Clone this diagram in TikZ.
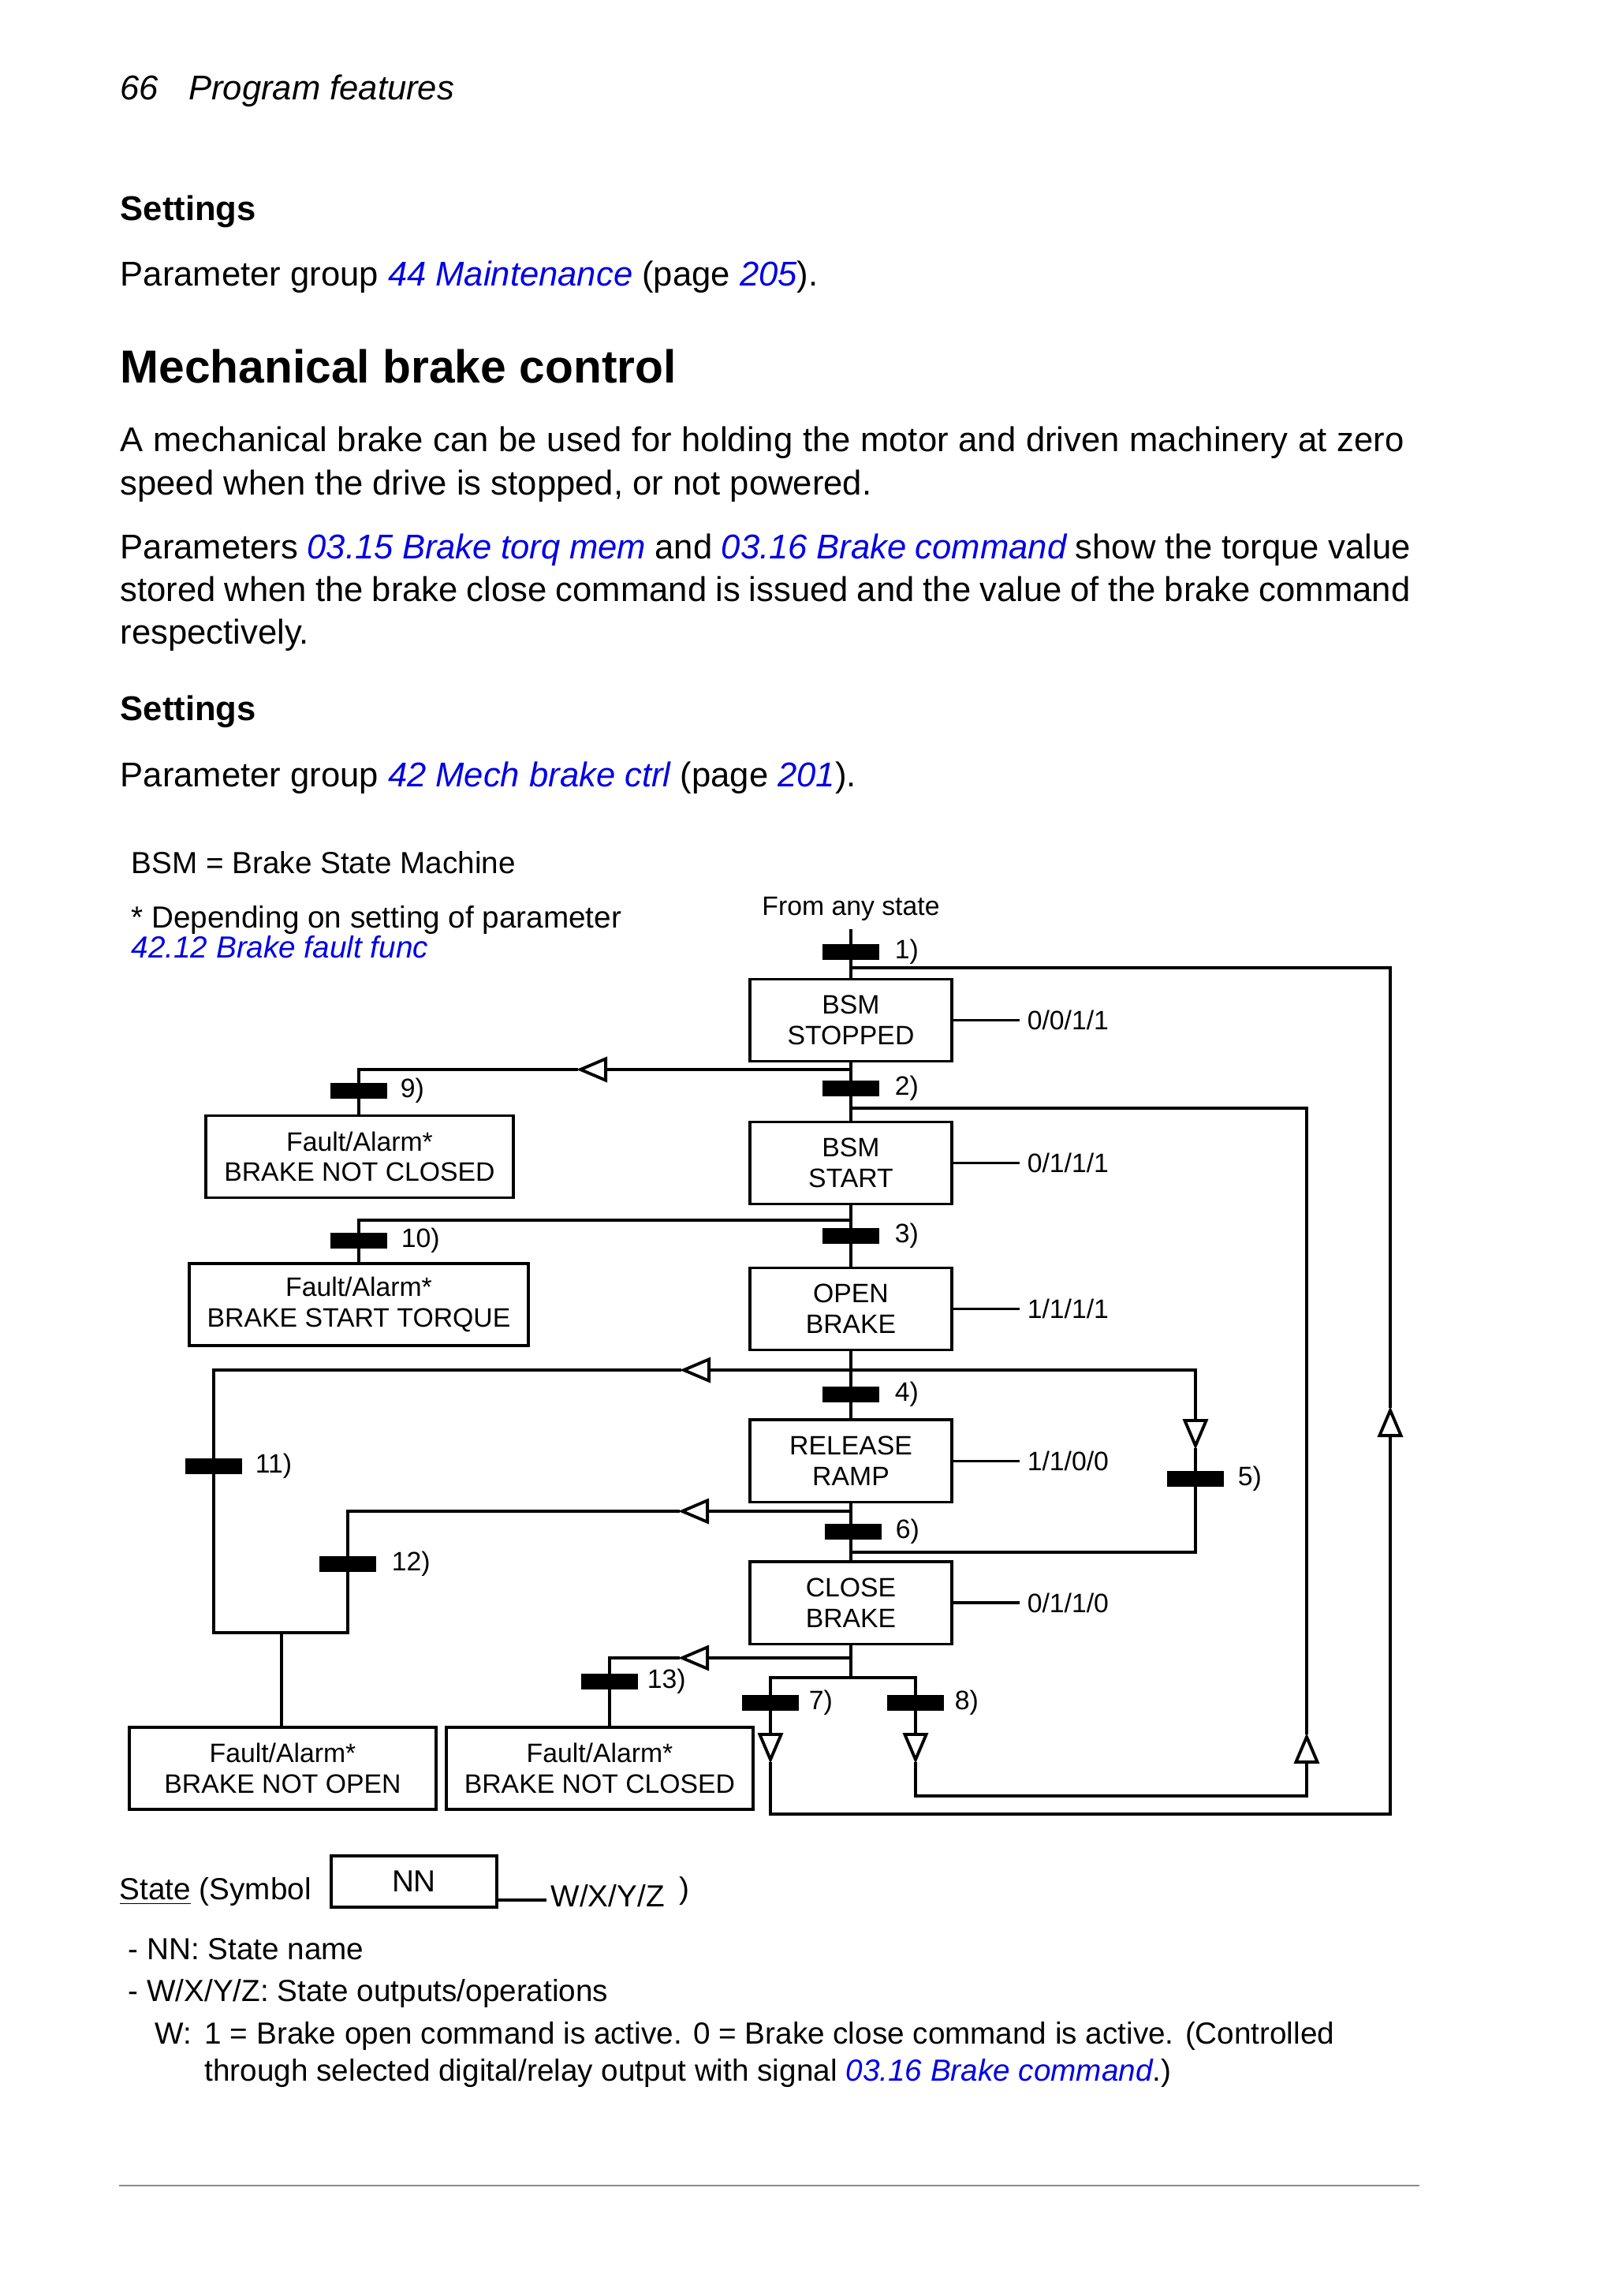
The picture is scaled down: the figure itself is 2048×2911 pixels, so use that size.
\documentclass[tikz,border=0pt]{standalone}
\usepackage{fontspec}
\setmainfont{Liberation Sans}
\usepackage{xcolor}
\definecolor{linkblue}{HTML}{0000E6}
\usepackage{tikz}
\usetikzlibrary{arrows.meta, positioning}
\newcommand{\lnk}[1]{\textcolor{linkblue}{\itshape #1}}
\newcommand{\bodyfont}{\fontsize{12.4}{15.5}\selectfont}
\newcommand{\notefont}{\fontsize{11}{13.5}\selectfont}
\newcommand{\smfont}{\fontsize{9.6}{11}\selectfont}

\begin{document}
\begin{tikzpicture}[x=0.01cm, y=-0.01cm,
  state/.style={draw, line width=1.1pt, minimum width=2.56cm, minimum height=1.04cm,
                inner sep=0pt, align=center, font=\smfont},
  fault/.style={state, minimum width=3.89cm},
  bar/.style={fill=black, minimum width=0.71cm, minimum height=0.2cm, inner sep=0pt},
  cond/.style={font=\smfont, inner sep=0pt},
  outp/.style={font=\smfont, inner sep=0.11cm},
  txt/.style={anchor=base west, inner sep=0pt, font=\bodyfont},
  note/.style={anchor=base west, inner sep=0pt, font=\notefont},
  wire/.style={line width=1.1pt, line cap=rect},
  tri/.style={-{Triangle[open, length=0.39cm, width=0.32cm]}}]

  \fill[white] (0,0) rectangle (2048,2911);
  \useasboundingbox (0,0) rectangle (2048,2911);

  % page text
  \node[txt] (hdr) at (152,126) {\itshape 66\hspace{0.38cm}Program features};
  \node[txt] (set1) at (152,279) {\bfseries Settings};
  \node[txt] (grp1) at (152,362) {Parameter group \lnk{44 Maintenance} (page \lnk{205}).};
  \node[txt, font=\fontsize{16.7}{20}\selectfont\bfseries] (title) at (152,485)
    {Mechanical brake control};
  \node[txt] (par1a) at (152,572)
    {\makebox[16.27cm][s]{A mechanical brake can be used for holding the motor and driven machinery at zero}};
  \node[txt] (par1b) at (152,627) {speed when the drive is stopped, or not powered.};
  \node[txt] (par2a) at (152,708)
    {\makebox[16.35cm][s]{Parameters \lnk{03.15 Brake torq mem} and \lnk{03.16 Brake command} show the torque value}};
  \node[txt] (par2b) at (152,762)
    {\makebox[16.35cm][s]{stored when the brake close command is issued and the value of the brake command}};
  \node[txt] (par2c) at (152,816) {respectively.};
  \node[txt] (set2) at (152,913) {\bfseries Settings};
  \node[txt] (grp2) at (152,997) {Parameter group \lnk{42 Mech brake ctrl} (page \lnk{201}).};

  % legend
  \node[note] (bsm) at (166,1107) {BSM = Brake State Machine};
  \node[note] (dep) at (166,1176) {* Depending on setting of parameter};
  \node[note] (depref) at (166,1214) {\lnk{42.12 Brake fault func}};
  \node[cond, anchor=base] (fromany) at (1079,1160) {From any state};

  % states
  \node[state] (stopped) at (1079,1293.5) {BSM\\STOPPED};
  \node[state, below=0.73cm of stopped] (start) {BSM\\START};
  \node[state, below=0.77cm of start] (open) {OPEN\\BRAKE};
  \node[state, below=0.85cm of open] (release) {RELEASE\\RAMP};
  \node[state, below=0.72cm of release] (close) {CLOSE\\BRAKE};

  \node[fault] (f9) at (456,1466.5) {Fault/Alarm*\\BRAKE NOT CLOSED};
  \node[fault, minimum width=4.30cm] (f10) at (455,1654) {Fault/Alarm*\\BRAKE START TORQUE};
  \node[fault] (fopen) at (358.5,2242) {Fault/Alarm*\\BRAKE NOT OPEN};
  \node[fault] (fclosed) at (760.5,2242) {Fault/Alarm*\\BRAKE NOT CLOSED};

  % outputs W/X/Y/Z
  \node[outp, right=0.82cm of stopped] (ostopped) {0/0/1/1};
  \node[outp, right=0.82cm of start] (ostart) {0/1/1/1};
  \node[outp, right=0.82cm of open] (oopen) {1/1/1/1};
  \node[outp, right=0.82cm of release] (orelease) {1/1/0/0};
  \node[outp, right=0.82cm of close] (oclose) {0/1/1/0};
  \draw[wire] (stopped.east) -- (ostopped.west);
  \draw[wire] (start.east) -- (ostart.west);
  \draw[wire] (open.east) -- (oopen.west);
  \draw[wire] (release.east) -- (orelease.west);
  \draw[wire] (close.east) -- (oclose.west);

  % transitions
  \node[bar] (t1) at (1079,1207) {};
  \node[bar] (t2) at (1079,1380) {};
  \node[bar] (t3) at (1079,1567) {};
  \node[bar] (t4) at (1079,1768) {};
  \node[bar] (t5) at (1516,1875) {};
  \node[bar] (t6) at (1082,1942) {};
  \node[bar] (t7) at (977,2159) {};
  \node[bar] (t8) at (1161,2159) {};
  \node[bar] (t9) at (455,1383) {};
  \node[bar] (t10) at (455,1573) {};
  \node[bar] (t11) at (271,1859) {};
  \node[bar] (t12) at (441,1983) {};
  \node[bar] (t13) at (773,2132) {};

  \node[cond, right=0.19cm of t1] (l1) {1)};
  \node[cond, right=0.19cm of t2] (l2) {2)};
  \node[cond, right=0.19cm of t3] (l3) {3)};
  \node[cond, right=0.19cm of t4] (l4) {4)};
  \node[cond, right=0.17cm of t5] (l5) {5)};
  \node[cond, right=0.17cm of t6] (l6) {6)};
  \node[cond, right=0.12cm of t7] (l7) {7)};
  \node[cond, right=0.13cm of t8] (l8) {8)};
  \node[cond, right=0.16cm of t9] (l9) {9)};
  \node[cond, right=0.17cm of t10] (l10) {10)};
  \node[cond, right=0.16cm of t11] (l11) {11)};
  \node[cond, right=0.19cm of t12] (l12) {12)};
  \node[cond, right=0.11cm of t13] (l13) {13)};

  % junctions and arrow tips
  \coordinate (anyst) at (1079,1180);
  \coordinate (j1) at (1079,1227);
  \coordinate (j9) at (1079,1356);
  \coordinate (a9) at (731,1356);
  \coordinate (j2) at (1079,1405);
  \coordinate (j10) at (1079,1547);
  \coordinate (j4) at (1079,1737);
  \coordinate (a11) at (862,1737);
  \coordinate (a5) at (1516,1838);
  \coordinate (j12) at (1079,1916);
  \coordinate (a12) at (860,1916);
  \coordinate (j6) at (1079,1968);
  \coordinate (b11) at (271,2070);
  \coordinate (b12) at (441,2070);
  \coordinate (b0) at (357,2070);
  \coordinate (j13) at (1079,2102);
  \coordinate (a13) at (860,2102);
  \coordinate (s0) at (1079,2127);
  \coordinate (s7) at (977,2127);
  \coordinate (s8) at (1161,2127);
  \coordinate (a7) at (977,2236);
  \coordinate (a8) at (1161,2236);
  \coordinate (k7) at (977,2300);
  \coordinate (k1) at (1763,2300);
  \coordinate (a1) at (1763,1783);
  \coordinate (k8) at (1161,2277);
  \coordinate (k2) at (1657,2277);
  \coordinate (a2) at (1657,2197);

  \draw[wire] (anyst) -- (stopped.north);
  \draw[wire] (stopped.south) -- (start.north);
  \draw[wire] (start.south) -- (open.north);
  \draw[wire] (open.south) -- (release.north);
  \draw[wire] (release.south) -- (close.north);

  \draw[wire, tri] (j9) -- (a9);
  \draw[wire] (a9) -| (t9 |- f9.north);
  \draw[wire] (j10) -| (t10 |- f10.north);
  \draw[wire, tri] (j4) -- (a11);
  \draw[wire] (a11) -| (b11);
  \draw[wire, tri] (j4) -| (a5);
  \draw[wire] (a5) |- (j6);
  \draw[wire, tri] (j12) -- (a12);
  \draw[wire] (a12) -| (b12);
  \draw[wire] (b11) -- (b12);
  \draw[wire] (b0) -- (fopen.north -| b0);
  \draw[wire, tri] (j13) -- (a13);
  \draw[wire] (a13) -| (t13 |- fclosed.north);
  \draw[wire] (close.south) -- (s0);
  \draw[wire] (s7) -- (s8);
  \draw[wire, tri] (s7) -- (a7);
  \draw[wire, tri] (s8) -- (a8);
  \draw[wire, tri] (a7) -- (k7) -- (k1) -- (a1);
  \draw[wire] (a1) |- (j1);
  \draw[wire, tri] (a8) -- (k8) -- (k2) -- (a2);
  \draw[wire] (a2) |- (j2);

  % symbol key
  \node[note] (stsym) at (151,2408) {\underline{State} (Symbol};
  \node[draw, line width=0.9pt, minimum width=2.1cm, minimum height=0.65cm, inner sep=0pt,
        font=\notefont] (nn) at (525,2385.5) {NN};
  \coordinate (wl) at (693,2409);
  \draw[line width=0.9pt] (nn.east |- wl) -- (wl);
  \node[note] (wxyz) at (698,2417) {W/X/Y/Z};
  \node[note] (wxyzp) at (861,2407) {)};
  \node[note] (keynn) at (162,2484) {- NN: State name};
  \node[note] (keyw) at (162,2537) {- W/X/Y/Z: State outputs/operations};
  \node[note] (keyw1) at (196,2591)
    {\makebox[0.63cm][l]{W:}1 = Brake open command is active. 0 = Brake close command is active. (Controlled};
  \node[note] (keyw2) at (259,2638)
    {through selected digital/relay output with signal \lnk{03.16 Brake command}.)};

  \draw[black!45, line width=0.6pt] (151,2771) -- (1800,2771);

\end{tikzpicture}
\end{document}
